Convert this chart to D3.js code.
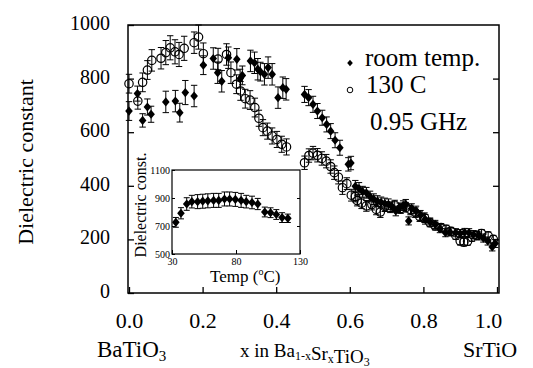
<!DOCTYPE html>
<html>
<head>
<meta charset="utf-8">
<script src="https://cdn.jsdelivr.net/npm/d3@7"></script>
<style>
  body { margin: 0; background: #fff; }
</style>
</head>
<body>
<div id="chart"></div>
<script>
// [x, dielectric constant, error]
var roomTemp = [
  [0.000, 679, 35], [0.023, 744, 28], [0.037, 644, 25], [0.050, 694, 30], [0.060, 667, 30],
  [0.100, 713, 40], [0.126, 716, 40], [0.138, 673, 35], [0.153, 748, 45], [0.177, 735, 40],
  [0.202, 850, 35], [0.229, 875, 40], [0.241, 822, 40], [0.252, 790, 40], [0.270, 878, 40],
  [0.293, 872, 40], [0.302, 800, 35], [0.308, 812, 35], [0.330, 866, 40], [0.341, 859, 40],
  [0.350, 835, 40], [0.357, 826, 35], [0.368, 816, 40], [0.378, 841, 40], [0.389, 816, 40],
  [0.405, 729, 40], [0.418, 766, 40], [0.427, 760, 40],
  [0.477, 741, 30], [0.488, 729, 30], [0.500, 704, 30], [0.512, 679, 28], [0.525, 654, 28],
  [0.537, 629, 28], [0.548, 604, 28], [0.560, 570, 28], [0.573, 542, 28], [0.596, 480, 25],
  [0.603, 485, 25],
  [0.615, 398, 22], [0.625, 390, 22], [0.635, 378, 20], [0.645, 374, 20], [0.655, 360, 20],
  [0.665, 350, 20], [0.675, 343, 20], [0.685, 338, 20], [0.695, 334, 20], [0.705, 331, 20],
  [0.715, 322, 18], [0.725, 306, 18], [0.735, 318, 18], [0.745, 326, 18], [0.752, 331, 18],
  [0.760, 269, 15], [0.768, 315, 18], [0.780, 306, 18], [0.792, 290, 18], [0.805, 275, 18],
  [0.818, 265, 15], [0.832, 256, 15], [0.845, 240, 15], [0.860, 225, 15], [0.872, 228, 15],
  [0.888, 225, 15], [0.900, 222, 15], [0.912, 226, 15], [0.924, 225, 15], [0.936, 218, 15],
  [0.951, 213, 15], [0.963, 205, 15], [0.975, 194, 15], [0.987, 172, 15], [0.995, 185, 15]
];
var hot130 = [
  [0.000, 781, 35], [0.024, 716, 30], [0.037, 786, 35], [0.050, 832, 35], [0.062, 868, 40],
  [0.087, 876, 40], [0.100, 897, 45], [0.112, 915, 45], [0.125, 900, 45], [0.136, 890, 45],
  [0.150, 913, 45], [0.177, 934, 40], [0.189, 955, 45], [0.202, 893, 40], [0.242, 873, 40],
  [0.265, 890, 40], [0.277, 822, 40], [0.292, 779, 35], [0.303, 754, 35], [0.316, 725, 35],
  [0.329, 720, 35], [0.342, 692, 35], [0.353, 652, 30], [0.364, 617, 30], [0.376, 604, 30],
  [0.389, 586, 30], [0.402, 573, 30], [0.415, 555, 30], [0.428, 545, 30],
  [0.477, 486, 25], [0.489, 513, 25], [0.500, 522, 25], [0.512, 514, 25], [0.524, 502, 25],
  [0.536, 492, 25], [0.548, 472, 25], [0.558, 449, 25], [0.569, 432, 25], [0.580, 393, 25],
  [0.592, 408, 22], [0.604, 365, 22], [0.615, 360, 20], [0.620, 345, 20], [0.632, 335, 20],
  [0.645, 325, 20], [0.660, 330, 20], [0.672, 312, 20], [0.683, 302, 20], [0.695, 322, 18],
  [0.710, 318, 18], [0.722, 328, 18], [0.738, 315, 18], [0.752, 320, 18], [0.765, 310, 18],
  [0.778, 300, 18], [0.790, 285, 18], [0.803, 281, 18], [0.818, 262, 15], [0.832, 250, 15],
  [0.848, 244, 15], [0.862, 238, 15], [0.875, 230, 15], [0.888, 215, 15], [0.900, 194, 15],
  [0.910, 190, 15], [0.920, 193, 15], [0.932, 208, 15], [0.945, 215, 15], [0.958, 222, 15],
  [0.976, 213, 15], [0.990, 200, 15]
];
// inset: [temperature C, dielectric const, error]
var insetData = [
  [33, 726, 35], [37, 791, 40], [41.5, 857, 45], [45.5, 874, 45], [50, 874, 50],
  [54, 877, 50], [58, 880, 50], [62.5, 883, 50], [66.5, 883, 50], [71, 893, 50],
  [75, 893, 50], [79.5, 890, 50], [84, 883, 50], [88, 874, 45], [92.5, 868, 45],
  [97, 857, 40], [102.5, 800, 35], [107, 795, 35], [111.5, 782, 35], [116, 760, 35],
  [120.5, 755, 30]
];
var xTicks = [0, 0.2, 0.4, 0.6, 0.8, 1.0];
var yTicks = [0, 200, 400, 600, 800, 1000];
var insetXTicks = [30, 80, 130];
var insetYTicks = [500, 700, 900, 1100];
var legendLabels = ["room temp.", "130 C"];

var serif = "'Liberation Serif', 'Times New Roman', Times, serif";
var width = 533, height = 368;
var svg = d3.select("#chart").append("svg")
  .attr("width", width).attr("height", height)
  .attr("font-family", serif);

var x = d3.scaleLinear().domain([0, 1]).range([129, 497]);
var y = d3.scaleLinear().domain([0, 1000]).range([293, 25]);

var diamond = "M0,-4.6L3.8,0L0,4.6L-3.8,0Z";

// frame
svg.append("rect")
  .attr("x", 128).attr("y", 25).attr("width", 371).attr("height", 268)
  .attr("fill", "none").attr("stroke", "#000").attr("stroke-width", 1.5);

var yAxis = svg.append("g").attr("transform", "translate(128,0)")
  .call(d3.axisLeft(y).tickValues(yTicks).tickSize(-6).tickPadding(18).tickFormat(d3.format("d")));
yAxis.select(".domain").remove();
yAxis.selectAll("text").attr("font-size", 20).attr("dy", "0.22em");

var yAxisR = svg.append("g").attr("transform", "translate(499,0)")
  .call(d3.axisRight(y).tickValues([200, 400, 600, 800]).tickSize(-6).tickFormat(""));
yAxisR.select(".domain").remove();

var xAxis = svg.append("g").attr("transform", "translate(0,293)")
  .call(d3.axisBottom(x).tickValues(xTicks).tickSize(-6).tickPadding(19)
    .tickFormat(d3.format(".1f")));
xAxis.select(".domain").remove();
xAxis.selectAll("text").attr("font-size", 22)
  .attr("dx", d => d === 1 ? -9 : 0);

svg.selectAll(".tick line").attr("stroke-width", 1.3);

// error bars
function errorBars(g, data, sx, sy, cap) {
  var bars = g.selectAll(null).data(data).enter().append("g")
    .attr("stroke", "#000").attr("stroke-width", 1);
  bars.append("line")
    .attr("x1", d => sx(d[0])).attr("x2", d => sx(d[0]))
    .attr("y1", d => sy(d[1] - d[2])).attr("y2", d => sy(d[1] + d[2]));
  bars.append("line")
    .attr("x1", d => sx(d[0]) - cap).attr("x2", d => sx(d[0]) + cap)
    .attr("y1", d => sy(d[1] + d[2])).attr("y2", d => sy(d[1] + d[2]));
  bars.append("line")
    .attr("x1", d => sx(d[0]) - cap).attr("x2", d => sx(d[0]) + cap)
    .attr("y1", d => sy(d[1] - d[2])).attr("y2", d => sy(d[1] - d[2]));
}

var plot = svg.append("g");
errorBars(plot, hot130, x, y, 3.2);
errorBars(plot, roomTemp, x, y, 3.2);

plot.selectAll(".hot").data(hot130).enter().append("circle")
  .attr("cx", d => x(d[0])).attr("cy", d => y(d[1])).attr("r", 4.2)
  .attr("fill", "none").attr("stroke", "#000").attr("stroke-width", 1.2);

plot.selectAll(".room").data(roomTemp).enter().append("path")
  .attr("d", diamond)
  .attr("transform", d => "translate(" + x(d[0]) + "," + y(d[1]) + ")")
  .attr("fill", "#000");

// legend
svg.append("path").attr("d", "M0,-3.2L2.8,0L0,3.2L-2.8,0Z")
  .attr("transform", "translate(350,63)").attr("fill", "#000");
svg.append("circle").attr("cx", 350).attr("cy", 90).attr("r", 2.8)
  .attr("fill", "none").attr("stroke", "#000").attr("stroke-width", 1);
svg.append("text").attr("x", 365).attr("y", 66).attr("font-size", 25).text(legendLabels[0]);
svg.append("text").attr("x", 366).attr("y", 93).attr("font-size", 25).text(legendLabels[1]);
svg.append("text").attr("x", 370).attr("y", 130).attr("font-size", 25).text("0.95 GHz");

// inset
var ix = d3.scaleLinear().domain([30, 130]).range([172, 300]);
var iy = d3.scaleLinear().domain([500, 1100]).range([254, 170]);
var inset = svg.append("g");
inset.append("rect")
  .attr("x", 172).attr("y", 170).attr("width", 128).attr("height", 84)
  .attr("fill", "#fff").attr("stroke", "#000").attr("stroke-width", 1.2);

var iyAxis = inset.append("g").attr("transform", "translate(172,0)")
  .call(d3.axisLeft(iy).tickValues(insetYTicks).tickSize(-3).tickPadding(2).tickFormat(d3.format("d")));
iyAxis.select(".domain").remove();
iyAxis.selectAll("text").attr("font-size", 10);

var iyAxisR = inset.append("g").attr("transform", "translate(300,0)")
  .call(d3.axisRight(iy).tickValues([700, 900]).tickSize(-3).tickFormat(""));
iyAxisR.select(".domain").remove();

var ixAxis = inset.append("g").attr("transform", "translate(0,254)")
  .call(d3.axisBottom(ix).tickValues(insetXTicks).tickSize(-4).tickPadding(4));
ixAxis.select(".domain").remove();
ixAxis.selectAll("text").attr("font-size", 10);
ixAxis.selectAll(".tick line").attr("stroke-width", 1);

errorBars(inset, insetData, ix, iy, 3);
inset.selectAll(".ins").data(insetData).enter().append("path")
  .attr("d", diamond)
  .attr("transform", d => "translate(" + ix(d[0]) + "," + iy(d[1]) + ")")
  .attr("fill", "#000");

var tl = inset.append("text").attr("x", 210).attr("y", 282).attr("font-size", 17);
tl.append("tspan").text("Temp (");
tl.append("tspan").attr("font-size", 10).attr("dy", -7).text("o");
tl.append("tspan").attr("dy", 7).text("C)");

inset.append("text")
  .attr("transform", "translate(146,205) rotate(-90)")
  .attr("text-anchor", "middle").attr("font-size", 16)
  .text("Dielectric const.");

// axis titles
svg.append("text")
  .attr("transform", "translate(33,162) rotate(-90)")
  .attr("text-anchor", "middle").attr("font-size", 22)
  .text("Dielectric constant");

function sub(t, parts, size, drop) {
  parts.forEach(function(p) {
    if (p[1]) {
      t.append("tspan").attr("font-size", size).attr("dy", drop).text(p[0]);
      t.append("tspan").attr("dy", -drop).text("");
    } else {
      t.append("tspan").text(p[0]);
    }
  });
}
var bl = svg.append("text").attr("x", 97).attr("y", 357).attr("font-size", 23);
sub(bl, [["BaTiO", false], ["3", true]], 15, 4);
var xl = svg.append("text").attr("x", 240).attr("y", 357).attr("font-size", 19);
sub(xl, [["x in Ba", false], ["1-x", true], ["Sr", false], ["x", true], ["TiO", false], ["3", true]], 12, 3);
svg.append("text").attr("x", 463).attr("y", 357).attr("font-size", 22).text("SrTiO");

// d3 axes set their own font-family; use the serif face everywhere
svg.selectAll("g").attr("font-family", null);
svg.selectAll("text").attr("font-family", serif).attr("fill", "#000");
</script>
</body>
</html>
